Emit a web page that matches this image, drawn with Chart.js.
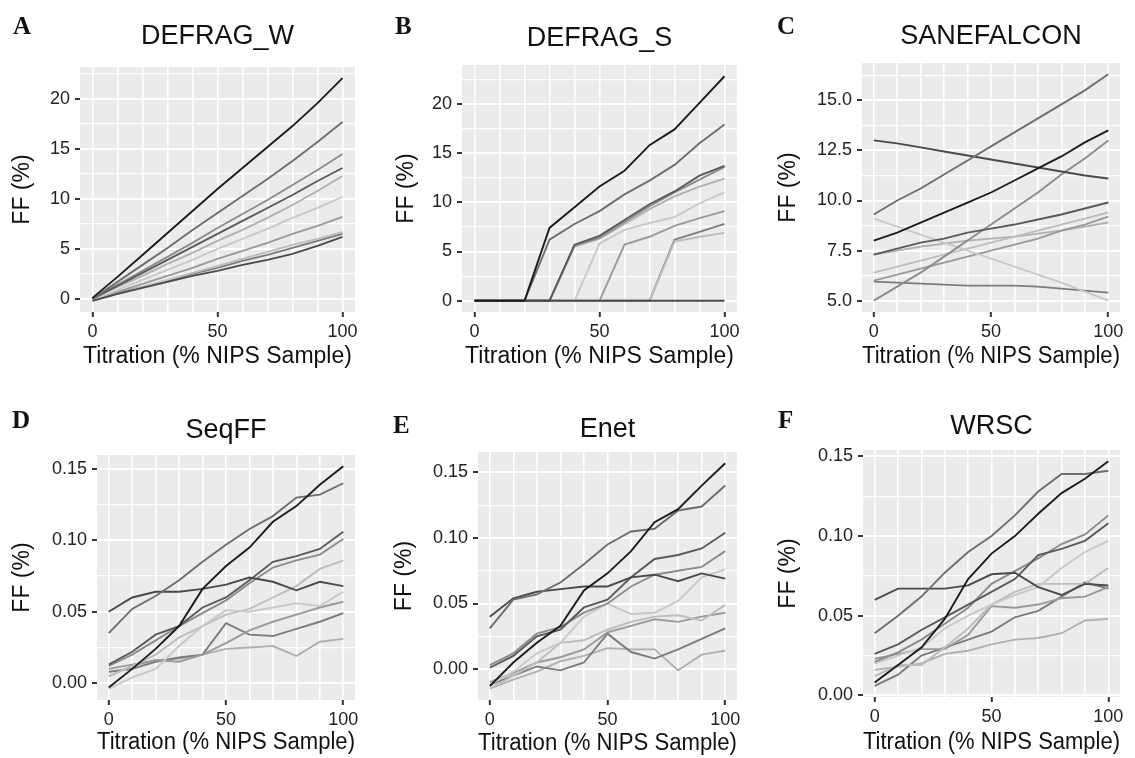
<!DOCTYPE html>
<html>
<head>
<meta charset="utf-8">
<script src="https://cdn.jsdelivr.net/npm/chart.js@4.4.1/dist/chart.umd.min.js"></script>
<style>
  body { margin: 0; background: #fff; }
  #fig { position: relative; width: 1135px; height: 758px; overflow: hidden; }
  #fig canvas { position: absolute; }
  .letter { position: absolute; font: bold 25px "Liberation Serif", "Times New Roman", serif; line-height: 1; color: #111; }
</style>
</head>
<body>
<div id="fig"></div>
<script>
// titration steps (% NIPS sample)
const titration = [0, 10, 20, 30, 40, 50, 60, 70, 80, 90, 100];

// FF (%) per sample, one row per sample line
const defragW = [
  [0.1, 2.2, 4.4, 6.6, 8.8, 11.0, 13.1, 15.2, 17.3, 19.6, 22.1],
  [0.0, 1.7, 3.4, 5.1, 6.9, 8.6, 10.3, 12.0, 13.8, 15.7, 17.7],
  [-0.2, 0.5, 1.1, 1.7, 2.3, 2.8, 3.4, 3.9, 4.5, 5.3, 6.2],
  [0.0, 1.3, 2.6, 3.9, 5.2, 6.5, 7.8, 9.1, 10.4, 11.8, 13.1],
  [0.0, 1.4, 2.8, 4.2, 5.6, 7.1, 8.5, 9.9, 11.4, 12.9, 14.5],
  [-0.1, 0.9, 1.9, 2.9, 3.9, 5.0, 6.0, 7.0, 8.1, 9.1, 10.2],
  [-0.2, 0.5, 1.2, 1.9, 2.6, 3.3, 4.0, 4.7, 5.4, 6.0, 6.7],
  [-0.1, 0.7, 1.5, 2.3, 3.1, 4.0, 4.8, 5.6, 6.5, 7.3, 8.2],
  [-0.1, 0.6, 1.2, 1.8, 2.5, 3.1, 3.8, 4.4, 5.1, 5.8, 6.5],
  [0.1, 1.2, 2.3, 3.5, 4.6, 5.8, 6.9, 8.1, 9.4, 10.8, 12.3]
];
const defragS = [
  [0, 0, 0, 7.4, 9.5, 11.6, 13.2, 15.8, 17.4, 20.1, 22.8],
  [0, 0, 0, 6.2, 7.8, 9.1, 10.8, 12.2, 13.8, 16.0, 17.9],
  [0, 0, 0, 0, 0, 0, 0, 0, 0, 0, 0],
  [0, 0, 0, 0, 5.7, 6.6, 8.2, 9.8, 11.1, 12.7, 13.7],
  [0, 0, 0, 0, 5.6, 6.4, 8.0, 9.6, 11.0, 12.3, 13.6],
  [0, 0, 0, 0, 0, 5.8, 7.2, 7.9, 8.5, 9.9, 11.0],
  [0, 0, 0, 0, 0, 0, 0, 0, 6.0, 6.5, 6.9],
  [0, 0, 0, 0, 0, 0, 5.7, 6.5, 7.6, 8.4, 9.1],
  [0, 0, 0, 0, 0, 0, 0, 0, 6.2, 7.0, 7.8],
  [0, 0, 0, 0, 5.5, 6.3, 7.8, 9.3, 10.6, 11.6, 12.4]
];
const sanefalcon = [
  [8.0, 8.4, 8.9, 9.4, 9.9, 10.4, 11.0, 11.6, 12.2, 12.9, 13.5],
  [9.3, 10.0, 10.6, 11.3, 12.0, 12.7, 13.4, 14.1, 14.8, 15.5, 16.3],
  [13.0, 12.85, 12.65, 12.45, 12.25, 12.05, 11.85, 11.65, 11.45, 11.25, 11.1],
  [7.3, 7.6, 7.9, 8.1, 8.4, 8.6, 8.8, 9.05, 9.3, 9.6, 9.9],
  [5.0, 5.7, 6.4, 7.2, 8.0, 8.8, 9.6, 10.4, 11.3, 12.1, 13.0],
  [9.1, 8.7, 8.3, 7.9, 7.5, 7.1, 6.7, 6.3, 5.9, 5.45, 5.0],
  [6.4, 6.7, 7.0, 7.3, 7.6, 7.9, 8.2, 8.5, 8.8, 9.1, 9.4],
  [6.0, 6.3, 6.6, 6.9, 7.2, 7.5, 7.8, 8.1, 8.5, 8.8, 9.2],
  [5.95, 5.9, 5.85, 5.8, 5.75, 5.75, 5.75, 5.7, 5.6, 5.5, 5.4],
  [7.3, 7.5, 7.7, 7.85, 8.0, 8.1, 8.2, 8.35, 8.5, 8.7, 8.9]
];
const seqFF = [
  [-0.003, 0.010, 0.024, 0.040, 0.066, 0.082, 0.095, 0.113, 0.124, 0.139, 0.152],
  [0.035, 0.052, 0.061, 0.072, 0.085, 0.097, 0.108, 0.117, 0.130, 0.132, 0.140],
  [0.050, 0.060, 0.064, 0.064, 0.066, 0.069, 0.074, 0.071, 0.065, 0.071, 0.068],
  [0.013, 0.022, 0.034, 0.040, 0.053, 0.060, 0.072, 0.085, 0.089, 0.094, 0.106],
  [0.012, 0.020, 0.030, 0.040, 0.049, 0.058, 0.070, 0.081, 0.086, 0.090, 0.101],
  [-0.004, 0.004, 0.010, 0.026, 0.040, 0.051, 0.050, 0.053, 0.056, 0.054, 0.064],
  [0.005, 0.012, 0.020, 0.032, 0.040, 0.048, 0.052, 0.060, 0.068, 0.080, 0.086],
  [0.010, 0.013, 0.016, 0.015, 0.020, 0.028, 0.037, 0.043, 0.048, 0.053, 0.057],
  [0.008, 0.010, 0.015, 0.018, 0.020, 0.042, 0.034, 0.033, 0.038, 0.043, 0.049],
  [0.005, 0.012, 0.016, 0.017, 0.020, 0.024, 0.025, 0.026, 0.019, 0.029, 0.031]
];
const enet = [
  [-0.013, 0.005, 0.020, 0.033, 0.060, 0.073, 0.090, 0.112, 0.122, 0.140, 0.157],
  [0.031, 0.053, 0.057, 0.066, 0.080, 0.095, 0.105, 0.107, 0.121, 0.124, 0.140],
  [0.040, 0.054, 0.059, 0.061, 0.063, 0.063, 0.070, 0.072, 0.067, 0.073, 0.069],
  [0.001, 0.010, 0.025, 0.030, 0.047, 0.053, 0.070, 0.084, 0.087, 0.092, 0.104],
  [0.003, 0.012, 0.027, 0.032, 0.043, 0.050, 0.063, 0.072, 0.075, 0.078, 0.090],
  [-0.012, -0.002, 0.012, 0.020, 0.040, 0.050, 0.042, 0.043, 0.052, 0.070, 0.076],
  [-0.015, -0.005, 0.005, 0.020, 0.022, 0.030, 0.036, 0.040, 0.041, 0.037, 0.049],
  [-0.010, -0.003, 0.005, 0.009, 0.015, 0.028, 0.033, 0.038, 0.036, 0.040, 0.043],
  [-0.012, -0.005, 0.002, -0.001, 0.005, 0.027, 0.013, 0.008, 0.015, 0.023, 0.031],
  [-0.015, -0.008, -0.002, 0.006, 0.010, 0.016, 0.015, 0.015, -0.001, 0.011, 0.014]
];
const wrsc = [
  [0.008, 0.019, 0.030, 0.048, 0.073, 0.089, 0.100, 0.114, 0.127, 0.136, 0.147],
  [0.039, 0.050, 0.062, 0.077, 0.090, 0.100, 0.113, 0.128, 0.139, 0.139, 0.141],
  [0.060, 0.067, 0.067, 0.067, 0.069, 0.076, 0.077, 0.068, 0.063, 0.070, 0.069],
  [0.026, 0.032, 0.041, 0.049, 0.057, 0.065, 0.073, 0.088, 0.092, 0.097, 0.108],
  [0.021, 0.027, 0.035, 0.045, 0.055, 0.070, 0.078, 0.086, 0.095, 0.101, 0.113],
  [0.020, 0.025, 0.030, 0.042, 0.050, 0.057, 0.063, 0.068, 0.080, 0.090, 0.097],
  [0.012, 0.019, 0.019, 0.030, 0.042, 0.057, 0.065, 0.070, 0.070, 0.070, 0.080],
  [0.023, 0.026, 0.029, 0.029, 0.038, 0.056, 0.055, 0.057, 0.061, 0.062, 0.068],
  [0.006, 0.013, 0.025, 0.030, 0.035, 0.040, 0.049, 0.053, 0.062, 0.071, 0.067],
  [0.016, 0.018, 0.020, 0.026, 0.028, 0.032, 0.035, 0.036, 0.039, 0.047, 0.048]
];

// labelled y breaks
const yTicksDefrag = [0, 5, 10, 15, 20];
const yTicksSane = [5.0, 7.5, 10.0, 12.5, 15.0];
const yTicksFrac = [0.00, 0.05, 0.10, 0.15];
const xTicks = [0, 50, 100];

const panels = [
  { letter: 'A', title: 'DEFRAG_W', series: defragW, yTicks: yTicksDefrag, digits: 0 },
  { letter: 'B', title: 'DEFRAG_S', series: defragS, yTicks: yTicksDefrag, digits: 0 },
  { letter: 'C', title: 'SANEFALCON', series: sanefalcon, yTicks: yTicksSane, digits: 1 },
  { letter: 'D', title: 'SeqFF', series: seqFF, yTicks: yTicksFrac, digits: 2 },
  { letter: 'E', title: 'Enet', series: enet, yTicks: yTicksFrac, digits: 2 },
  { letter: 'F', title: 'WRSC', series: wrsc, yTicks: yTicksFrac, digits: 2 }
];

// canvas boxes and plot areas (local coords: left, top, right, bottom)
const layout = [
  { left: 0,   top: 0,   w: 370, h: 380, area: [80, 67, 355, 312],  titleY: 37, yTitleX: 23, xTitleY: 357, lx: 13,  ly: 13 },
  { left: 370, top: 0,   w: 380, h: 380, area: [92, 65, 367, 312],  titleY: 39, yTitleX: 37, xTitleY: 357, lx: 25,  ly: 13 },
  { left: 750, top: 0,   w: 385, h: 380, area: [112, 63, 370, 312], titleY: 37, yTitleX: 39, xTitleY: 357, lx: 27,  ly: 13 },
  { left: 0,   top: 380, w: 370, h: 378, area: [97, 75, 355, 320],  titleY: 51, yTitleX: 23, xTitleY: 363, lx: 12,  ly: 27 },
  { left: 370, top: 380, w: 380, h: 378, area: [108, 72, 367, 320], titleY: 50, yTitleX: 35, xTitleY: 364, lx: 23,  ly: 32 },
  { left: 750, top: 380, w: 385, h: 378, area: [113, 70, 370, 317], titleY: 47, yTitleX: 39, xTitleY: 363, lx: 28,  ly: 27 }
];

const greys = ['#1c1c1c', '#6e6e6e', '#4a4a4a', '#5a5a5a', '#8c8c8c',
               '#c9c9c9', '#bdbdbd', '#9a9a9a', '#7c7c7c', '#b0b0b0'];
const sans = '"Liberation Sans", Arial, Helvetica, sans-serif';

const panelBg = {
  id: 'panelBg',
  beforeDraw(chart) {
    const { ctx, chartArea: a } = chart;
    ctx.save();
    ctx.fillStyle = '#ebebeb';
    ctx.fillRect(a.left, a.top, a.right - a.left, a.bottom - a.top);
    ctx.restore();
  }
};

const fig = document.getElementById('fig');

panels.forEach((p, k) => {
  const lay = layout[k];
  const [L, T, R, B] = lay.area;

  const cv = document.createElement('canvas');
  cv.width = lay.w; cv.height = lay.h;
  cv.style.left = lay.left + 'px'; cv.style.top = lay.top + 'px';
  cv.style.width = lay.w + 'px'; cv.style.height = lay.h + 'px';
  fig.appendChild(cv);

  const letter = document.createElement('div');
  letter.className = 'letter';
  letter.textContent = p.letter;
  letter.style.left = (lay.left + lay.lx) + 'px';
  letter.style.top = (lay.top + lay.ly) + 'px';
  fig.appendChild(letter);

  // ggplot-style 5% expansion of the data range
  const all = p.series.flat();
  const lo = Math.min(...all), hi = Math.max(...all);
  const yMin = lo - 0.05 * (hi - lo), yMax = hi + 0.05 * (hi - lo);
  const step = p.yTicks[1] - p.yTicks[0];
  const yLines = p.yTicks.slice();
  [p.yTicks[0] - step / 2, ...p.yTicks.map(v => v + step / 2)].forEach(v => {
    if (v > yMin && v < yMax) yLines.push(v);
  });
  yLines.sort((a, b) => a - b);
  const isYMajor = v => p.yTicks.some(m => Math.abs(m - v) < 1e-9);
  const isXMajor = v => xTicks.includes(v);

  const titleLH = 27 * 1.2, axisLH = 23 * 1.2;

  new Chart(cv, {
    type: 'line',
    data: {
      datasets: p.series.map((s, i) => ({
        data: titration.map((x, j) => ({ x: x, y: s[j] })),
        borderColor: greys[i],
        borderWidth: 1.9,
        pointRadius: 0,
        tension: 0,
        fill: false
      }))
    },
    options: {
      responsive: false,
      animation: false,
      devicePixelRatio: 1,
      layout: { padding: { left: 0, top: 0, right: lay.w - R, bottom: 0 } },
      plugins: {
        legend: { display: false },
        tooltip: { enabled: false },
        title: {
          display: true,
          text: p.title,
          fullSize: false,
          color: '#111',
          font: { family: sans, size: 27, weight: 'normal', lineHeight: 1.2 },
          padding: { top: lay.titleY - titleLH / 2, bottom: T - lay.titleY - titleLH / 2 }
        }
      },
      scales: {
        x: {
          type: 'linear',
          min: -5,
          max: 105,
          afterBuildTicks: sc => { sc.ticks = titration.map(v => ({ value: v })); },
          afterFit: sc => { sc.height = lay.h - B; sc.paddingLeft = 0; sc.paddingRight = 0; },
          ticks: {
            autoSkip: false,
            maxRotation: 0,
            padding: 4,
            color: '#222',
            font: { family: sans, size: 18 },
            callback: v => (isXMajor(v) ? String(v) : '')
          },
          grid: {
            color: '#ffffff',
            lineWidth: 1.6,
            tickLength: 5,
            tickWidth: 2,
            tickColor: c => (c.tick && isXMajor(c.tick.value) ? '#333' : 'rgba(0,0,0,0)')
          },
          border: { display: false },
          title: {
            display: true,
            text: 'Titration (% NIPS Sample)',
            color: '#111',
            font: { family: sans, size: 23, lineHeight: 1.2 },
            padding: { top: 0, bottom: lay.h - lay.xTitleY - axisLH / 2 }
          }
        },
        y: {
          type: 'linear',
          min: yMin,
          max: yMax,
          afterBuildTicks: sc => { sc.ticks = yLines.map(v => ({ value: v })); },
          afterFit: sc => { sc.width = L; sc.paddingTop = 0; sc.paddingBottom = 0; },
          ticks: {
            autoSkip: false,
            padding: 5,
            color: '#222',
            font: { family: sans, size: 18 },
            callback: v => (isYMajor(v) ? v.toFixed(p.digits) : '')
          },
          grid: {
            color: '#ffffff',
            lineWidth: c => (c.tick && isYMajor(c.tick.value) ? 2 : 1.3),
            tickLength: 5,
            tickWidth: 2,
            tickColor: c => (c.tick && isYMajor(c.tick.value) ? '#333' : 'rgba(0,0,0,0)')
          },
          border: { display: false },
          title: {
            display: true,
            text: 'FF (%)',
            color: '#111',
            font: { family: sans, size: 23, lineHeight: 1.2 },
            padding: { top: lay.yTitleX - axisLH / 2, bottom: 0 }
          }
        }
      }
    },
    plugins: [panelBg]
  });
});
</script>
</body>
</html>
